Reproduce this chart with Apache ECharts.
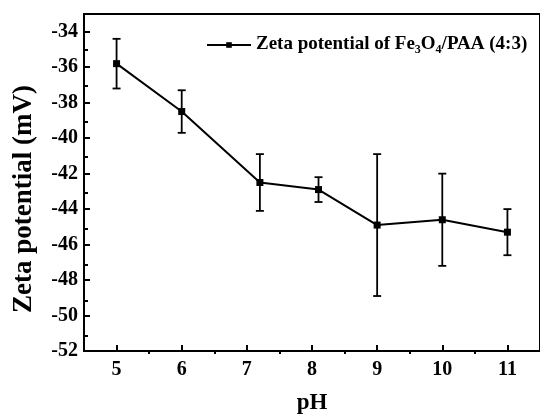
<!DOCTYPE html>
<html>
<head>
<meta charset="utf-8">
<script src="https://cdn.jsdelivr.net/npm/echarts@6/dist/echarts.min.js"></script>
<style>
html,body{margin:0;padding:0;background:#fff;}
#chart{width:540px;height:420px;}
</style>
</head>
<body>
<div id="chart"></div>
<script>
const xTicks = [5, 6, 7, 8, 9, 10, 11];
const xMinorTicks = [5.5, 6.5, 7.5, 8.5, 9.5, 10.5];
const yTicks = [-52, -50, -48, -46, -44, -42, -40, -38, -36, -34];
const yMinorTicks = [-51, -49, -47, -45, -43, -41, -39, -37, -35];
const phValues = [5, 6, 7.2, 8.1, 9, 10, 11];
const zetaValues = [-35.8, -38.5, -42.5, -42.9, -44.9, -44.6, -45.3];
const errValues = [1.4, 1.2, 1.6, 0.7, 4.0, 2.6, 1.3];
const seriesName = 'Zeta potential of Fe3O4/PAA (4:3)';

const FONT = '"Liberation Serif", "Times New Roman", serif';
const xMin = 4.5, xMax = 11.5, yMin = -52, yMax = -33;

const lineData = phValues.map((x, i) => [x, zetaValues[i]]);
const errData = phValues.map((x, i) => [x, zetaValues[i], errValues[i]]);

const gridPos = { left: 84, top: 14, width: 457, height: 340 };

const chart = echarts.init(document.getElementById('chart'), null, { renderer: 'canvas' });
chart.setOption({
  animation: false,
  backgroundColor: '#fff',
  grid: [
    Object.assign({ show: true, borderColor: '#000', borderWidth: 2, backgroundColor: 'transparent' }, gridPos),
    Object.assign({ show: false }, gridPos)
  ],
  legend: {
    left: 201, top: 30,
    itemWidth: 44, itemHeight: 7,
    data: [seriesName],
    formatter: function () { return '{m|Zeta potential of Fe}{sub|3}{m|O}{sub|4}{m|/PAA (4:3)}'; },
    textStyle: {
      fontFamily: FONT, fontWeight: 'bold', fontSize: 19, color: '#000',
      rich: {
        m: { fontFamily: FONT, fontWeight: 'bold', fontSize: 19, lineHeight: 20, color: '#000', verticalAlign: 'top' },
        sub: { fontFamily: FONT, fontWeight: 'bold', fontSize: 12, lineHeight: 12, color: '#000', verticalAlign: 'top', padding: [9, 0, 0, 0] }
      }
    }
  },
  xAxis: [
    {
      gridIndex: 0, type: 'value', position: 'bottom', min: xMin, max: xMax,
      name: 'pH', nameLocation: 'middle', nameGap: 41,
      nameTextStyle: { fontFamily: FONT, fontWeight: 'bold', fontSize: 23, color: '#000' },
      axisLine: { show: true, lineStyle: { color: '#000', width: 2 } },
      axisTick: { show: true, inside: true, length: 6, customValues: xTicks, lineStyle: { color: '#000', width: 2 } },
      axisLabel: { show: true, customValues: xTicks, margin: 9, fontFamily: FONT, fontWeight: 'bold', fontSize: 20, color: '#000' },
      splitLine: { show: false }
    },
    {
      gridIndex: 1, type: 'value', position: 'bottom', min: xMin, max: xMax,
      axisLine: { show: false },
      axisTick: { show: true, inside: true, length: 4, customValues: xMinorTicks, lineStyle: { color: '#000', width: 2 } },
      axisLabel: { show: false },
      splitLine: { show: false }
    }
  ],
  yAxis: [
    {
      gridIndex: 0, type: 'value', position: 'left', min: yMin, max: yMax,
      name: 'Zeta potential (mV)', nameLocation: 'middle', nameGap: 46, nameRotate: 90,
      nameTextStyle: { fontFamily: FONT, fontWeight: 'bold', fontSize: 27, color: '#000', padding: [0, 33, 0, 0] },
      axisLine: { show: true, lineStyle: { color: '#000', width: 2 } },
      axisTick: { show: true, inside: true, length: 6, customValues: yTicks, lineStyle: { color: '#000', width: 2 } },
      axisLabel: { show: true, customValues: yTicks, margin: 6, fontFamily: FONT, fontWeight: 'bold', fontSize: 20, color: '#000' },
      splitLine: { show: false }
    },
    {
      gridIndex: 1, type: 'value', position: 'left', min: yMin, max: yMax,
      axisLine: { show: false },
      axisTick: { show: true, inside: true, length: 4, customValues: yMinorTicks, lineStyle: { color: '#000', width: 2 } },
      axisLabel: { show: false },
      splitLine: { show: false }
    }
  ],
  series: [
    {
      name: seriesName,
      type: 'line',
      xAxisIndex: 0, yAxisIndex: 0,
      data: lineData,
      symbol: 'rect', symbolSize: 7,
      lineStyle: { color: '#000', width: 2 },
      itemStyle: { color: '#000' },
      z: 3
    },
    {
      name: 'error',
      type: 'custom',
      xAxisIndex: 0, yAxisIndex: 0,
      data: errData,
      z: 2,
      renderItem: function (params, api) {
        const x = api.value(0), y = api.value(1), e = api.value(2);
        const top = api.coord([x, y + e]);
        const bot = api.coord([x, y - e]);
        const hw = 4;
        const style = { stroke: '#000', lineWidth: 1.8 };
        return {
          type: 'group',
          children: [
            { type: 'line', shape: { x1: top[0], y1: top[1], x2: bot[0], y2: bot[1] }, style: style },
            { type: 'line', shape: { x1: top[0] - hw, y1: top[1], x2: top[0] + hw, y2: top[1] }, style: style },
            { type: 'line', shape: { x1: bot[0] - hw, y1: bot[1], x2: bot[0] + hw, y2: bot[1] }, style: style }
          ]
        };
      }
    }
  ]
});
</script>
</body>
</html>
